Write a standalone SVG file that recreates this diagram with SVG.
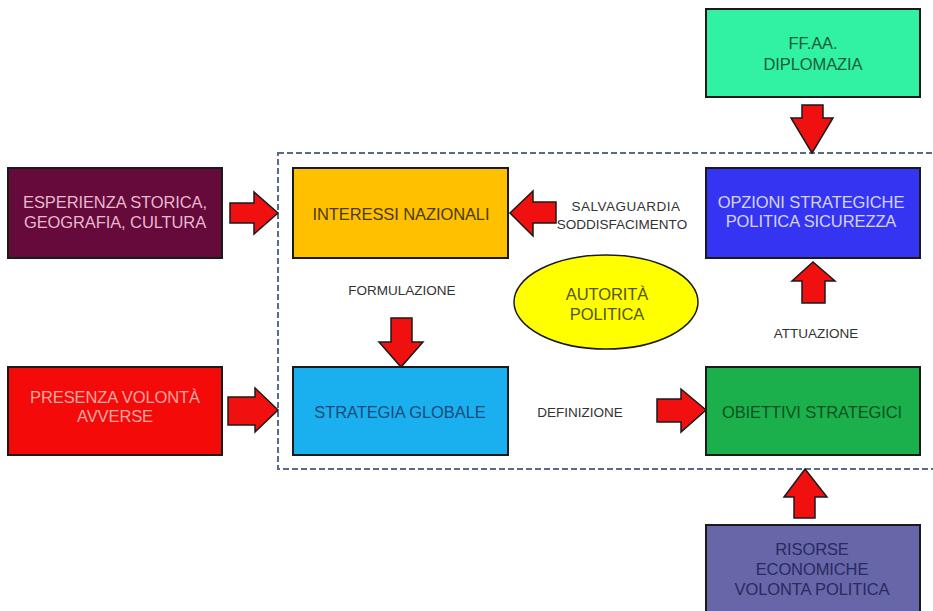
<svg xmlns="http://www.w3.org/2000/svg" width="933" height="611" viewBox="0 0 933 611">
<style>
.box{stroke:#1a1a1a;stroke-width:2}
.t{font-family:"Liberation Sans",Arial,sans-serif;font-size:16.5px;text-anchor:middle;letter-spacing:-0.1px}
.l{font-family:"Liberation Sans",Arial,sans-serif;font-size:13.5px;text-anchor:middle;fill:#333}
.arr{fill:#f01010;stroke:#1a1a1a;stroke-width:1.5;stroke-linejoin:miter}
</style>
<rect width="933" height="611" fill="#ffffff"/>
<rect id="frame" x="278" y="153" width="680" height="316" fill="none" stroke="#5a6a8a" stroke-width="2" stroke-dasharray="6,3"/>

<g id="esperienza">
<rect class="box" x="8" y="168" width="214" height="90" fill="#650a3a"/>
<text class="t" x="115" y="208" fill="#e8b8d0">ESPERIENZA STORICA,</text>
<text class="t" x="115" y="228" fill="#e8b8d0">GEOGRAFIA, CULTURA</text>
</g>
<g id="interessi">
<rect class="box" x="293" y="168" width="215" height="90" fill="#ffc000"/>
<text class="t" x="401" y="220" fill="#4a3a10">INTERESSI NAZIONALI</text>
</g>
<g id="ffaa">
<rect class="box" x="706" y="9" width="214" height="88" fill="#30f2a2"/>
<text class="t" x="813" y="49" fill="#1a5a3a">FF.AA.</text>
<text class="t" x="813" y="70" fill="#1a5a3a">DIPLOMAZIA</text>
</g>
<g id="opzioni">
<rect class="box" x="706" y="168" width="214" height="90" fill="#3434f2"/>
<text class="t" x="811" y="208" fill="#d4d4ff">OPZIONI STRATEGICHE</text>
<text class="t" x="811" y="227" fill="#d4d4ff">POLITICA  SICUREZZA</text>
</g>
<g id="autorita">
<ellipse cx="606" cy="302" rx="92" ry="47" fill="#ffff00" stroke="#1a1a1a" stroke-width="1.5"/>
<text class="t" x="607" y="300" fill="#555510">AUTORITÀ</text>
<text class="t" x="607" y="320" fill="#555510">POLITICA</text>
</g>
<g id="presenza">
<rect class="box" x="8" y="367" width="214" height="88" fill="#f50a0a"/>
<text class="t" x="115" y="403" fill="#f8a8a0">PRESENZA VOLONTÀ</text>
<text class="t" x="115" y="422" fill="#f8a8a0">AVVERSE</text>
</g>
<g id="strategia">
<rect class="box" x="293" y="367" width="215" height="88" fill="#1ab0f0"/>
<text class="t" x="400" y="418" fill="#1a4a7a">STRATEGIA GLOBALE</text>
</g>
<g id="obiettivi">
<rect class="box" x="706" y="367" width="214" height="88" fill="#1cb04c"/>
<text class="t" x="812" y="418" fill="#0a5020">OBIETTIVI STRATEGICI</text>
</g>
<g id="risorse">
<rect class="box" x="706" y="525" width="214" height="88" fill="#6666a8"/>
<text class="t" x="812" y="555" fill="#2a2a60">RISORSE</text>
<text class="t" x="812" y="575" fill="#2a2a60">ECONOMICHE</text>
<text class="t" x="812" y="595" fill="#2a2a60">VOLONTA POLITICA</text>
</g>

<g id="labels">
<text class="l" x="626" y="211" letter-spacing="0.5">SALVAGUARDIA</text>
<text class="l" x="622" y="229">SODDISFACIMENTO</text>
<text class="l" x="402" y="295">FORMULAZIONE</text>
<text class="l" x="580" y="417">DEFINIZIONE</text>
<text class="l" x="816" y="338">ATTUAZIONE</text>
</g>

<g id="connectors">
<polygon class="arr" points="230,203 254,203 254,192 278,213 254,234 254,223 230,223"/>
<polygon class="arr" points="556,202 533,202 533,191 510,213 533,236 533,223 556,223"/>
<polygon class="arr" points="802,105 823,105 823,118 833,118 812,153 791,118 802,118"/>
<polygon class="arr" points="802,303 825,303 825,281 835,281 813,262 792,281 802,281"/>
<polygon class="arr" points="391,318 412,318 412,342 423,342 401,367 379,342 391,342"/>
<polygon class="arr" points="228,397 255,397 255,388 278,410 255,432 255,425 228,425"/>
<polygon class="arr" points="657,399 681,399 681,389 706,410 681,432 681,422 657,422"/>
<polygon class="arr" points="794,518 815,518 815,497 827,497 805,469 784,497 794,497"/>
</g>
</svg>
